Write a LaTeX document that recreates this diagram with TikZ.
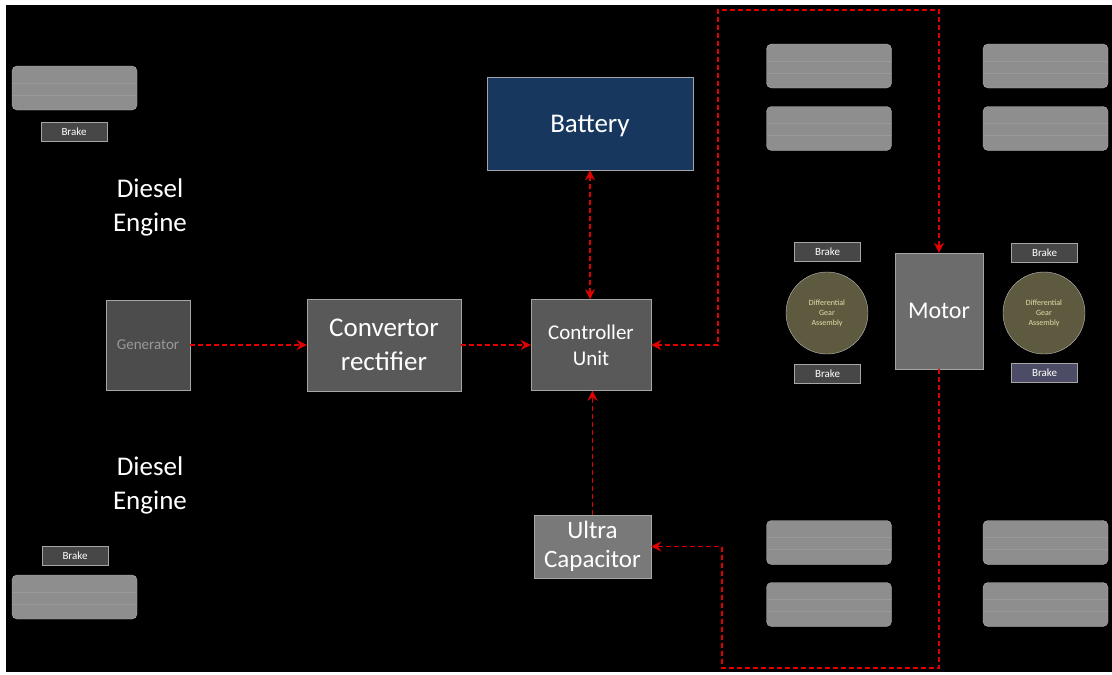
\documentclass[tikz,border=0pt]{standalone}
\usepackage{fontspec}
\setmainfont{Carlito}
\usepackage{xcolor}
\usepackage{tikz}
\usetikzlibrary{positioning, arrows.meta}

\definecolor{boxgray}{HTML}{595959}
\definecolor{wheelgray}{HTML}{8E8E8E}
\definecolor{batblue}{HTML}{17375E}
\definecolor{gearolive}{HTML}{5E5A40}
\definecolor{flowred}{HTML}{E00000}

\begin{document}
\begin{tikzpicture}[
    x=1pt, y=-1pt,
    every node/.style={font=\fontsize{27}{34}\selectfont, text=white},
    block/.style={rectangle, draw=gray!70, fill=boxgray, align=center, inner sep=2pt},
    wheel/.style={rectangle, draw=gray!60, fill=wheelgray, rounded corners=5pt, minimum width=125, minimum height=44,
        path picture={\draw[gray!80, line width=0.8pt] ([yshift=-7]path picture bounding box.west) -- ([yshift=-7]path picture bounding box.east);
                      \draw[gray!80, line width=0.8pt] ([yshift=5]path picture bounding box.west) -- ([yshift=5]path picture bounding box.east);}},
    brake/.style={rectangle, draw=gray!70, fill=black!72, minimum width=66, minimum height=19, inner sep=0pt, font=\fontsize{11}{12}\selectfont},
    gear/.style={circle, fill=gearolive, draw=gray!50, minimum size=82, inner sep=0pt, align=center, text=white!75!olive, font=\fontsize{8}{10}\selectfont},
    flow/.style={draw=flowred, line width=1.6pt, dash pattern=on 5pt off 3pt, -{Stealth[length=10pt, width=10pt]}},
    label_text/.style={align=center, font=\fontsize{27}{34}\selectfont}
]

% Frame
\fill[white] (0,0) rectangle (1112,675);
\fill[black] (6,5) rectangle (1112,672);
\useasboundingbox (0,0) rectangle (1112,675);

% Left side
\node[wheel] (wTL) at (74.5,88) {};
\node[brake] (bTL) at (74,132) {Brake};
\node[label_text] (eng1) at (150,207) {Diesel\\Engine};
\node[label_text] (eng2) at (150,485) {Diesel\\Engine};
\node[wheel] (wBL) at (74.5,597) {};
\node[brake] (bBL) at (75,556) {Brake};

% Main blocks
\node[block, fill=black!70, minimum width=84, minimum height=90, text=gray!80, font=\fontsize{15}{18}\selectfont] (gen) at (148,345) {Generator};
\node[block, minimum width=154, minimum height=92] (conv) at (384,345) {Convertor\\rectifier};
\node[block, minimum width=120, minimum height=91, font=\fontsize{21}{26}\selectfont] (ctrl) at (591,345) {Controller\\Unit};
\node[block, fill=batblue, minimum width=206, minimum height=93, font=\fontsize{27}{32}\selectfont, text depth=0pt] (bat) at (590,123.5) {Battery};
\node[block, fill=wheelgray!85!black, minimum width=117, minimum height=63, font=\fontsize{25}{29}\selectfont] (ucap) at (592.5,546.5) {Ultra\\Capacitor};
\node[block, fill=gray!85!black, minimum width=88, minimum height=116, font=\fontsize{24}{28}\selectfont] (motor) at (939,311) {Motor};

% Right side wheels
\node[wheel] (w1) at (829,66) {};
\node[wheel] (w2) at (829,128.5) {};
\node[wheel] (w3) at (1045.5,66) {};
\node[wheel] (w4) at (1045.5,128.5) {};
\node[wheel] (w5) at (829,542.5) {};
\node[wheel] (w6) at (829,604.5) {};
\node[wheel] (w7) at (1045.5,542.5) {};
\node[wheel] (w8) at (1045.5,604.5) {};

% Gears and brakes
\node[gear] (gL) at (827,313) {Differential\\Gear\\Assembly};
\node[gear] (gR) at (1044,313) {Differential\\Gear\\Assembly};
\node[brake] (bL1) at (827.5,251.5) {Brake};
\node[brake] (bL2) at (827.5,373.5) {Brake};
\node[brake] (bR1) at (1044.5,253) {Brake};
\node[brake, fill=blue!15!black!70] (bR2) at (1044.5,373) {Brake};

% Edges
\coordinate (topL) at (718,10);
\coordinate (botL) at (722,668);
\draw[flow] (gen) -- (conv);
\draw[flow] (conv) -- (ctrl);
\draw[flow, {Stealth[length=10pt, width=10pt]}-{Stealth[length=10pt, width=10pt]}] (bat.south) -- (bat.south |- ctrl.north);
\draw[flow] (ucap.north) -- (ucap.north |- ctrl.south);
\draw[flow, {Stealth[length=10pt, width=10pt]}-{Stealth[length=10pt, width=10pt]}] (ctrl.east) -| (topL) -| (motor.north);
\draw[flow] (motor.south) |- (botL) |- (ucap.east);

\end{tikzpicture}
\end{document}
